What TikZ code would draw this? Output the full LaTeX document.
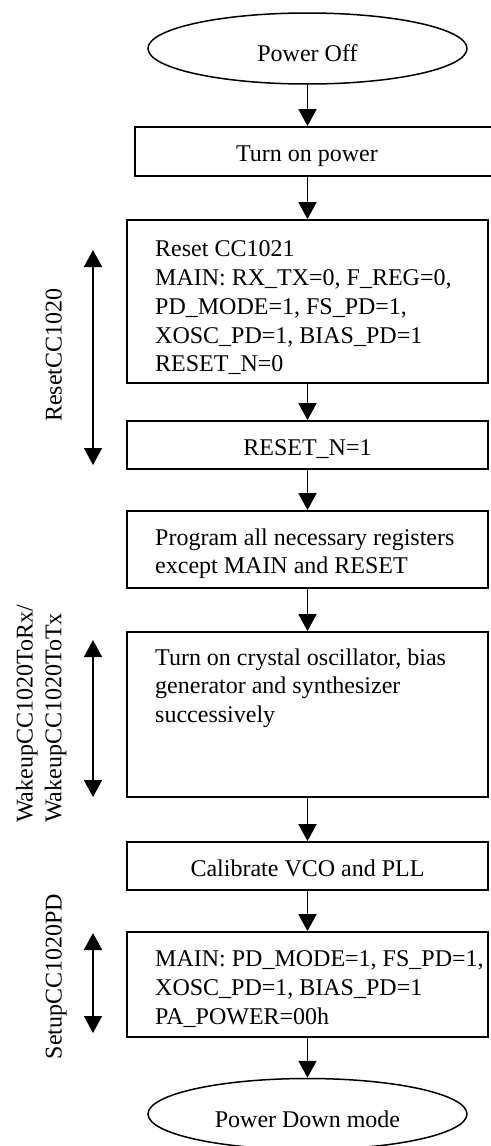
\documentclass[tikz,border=0pt]{standalone}
\usepackage{fontspec}
\setmainfont{Liberation Serif}
\usetikzlibrary{arrows.meta,shapes.geometric}
\begin{document}
\begin{tikzpicture}[x=1pt,y=-1pt,
  every node/.style={font=\fontsize{24}{28.8}\selectfont},
  box/.style={draw, line width=1.8pt, rectangle, inner sep=0pt, minimum width=361pt, text height=22pt, text depth=2pt},
  term/.style={draw, ellipse, line width=1.5pt, minimum width=319pt, minimum height=71pt, inner sep=0pt, text height=26pt, text depth=0pt},
  txt/.style={anchor=base west, inner sep=0pt, text width=360pt, align=flush left},
  flow/.style={line width=1.8pt, -{Triangle[length=17pt,width=18pt]}},
  span/.style={line width=1.8pt, {Triangle[length=17pt,width=18pt]}-{Triangle[length=17pt,width=18pt]}},
  side/.style={rotate=90, inner sep=0pt}
]
\useasboundingbox (0,0) rectangle (490,1146);

% main column
\node[term] (off) at (307.5,48.5) {Power Off};
\node[box, minimum width=357pt, minimum height=49pt] (turnon) at (313.5,151.5) {\hspace*{-13pt}Turn on power};
\node[box, minimum height=163pt] (reset) at (307.5,301.5) {};
\node[txt] (resettxt) at (155,256.7) {Reset CC1021\\MAIN: RX\_TX=0, F\_REG=0,\\PD\_MODE=1, FS\_PD=1,\\XOSC\_PD=1, BIAS\_PD=1\\RESET\_N=0};
\node[box, minimum height=48pt] (resetn) at (307.5,445) {RESET\_N=1};
\node[box, minimum height=77pt] (prog) at (307.5,549.5) {};
\node[txt] (progtxt) at (155,545) {Program all necessary registers\\except MAIN and RESET};
\node[box, minimum height=165pt] (xosc) at (307.5,714.5) {};
\node[txt] (xosctxt) at (155,665) {Turn on crystal oscillator, bias\\generator and synthesizer\\successively};
\node[box, minimum height=48pt] (cal) at (307.5,866) {Calibrate VCO and PLL};
\node[box, minimum height=105pt] (pd) at (307.5,984.5) {};
\node[txt] (pdtxt) at (155,966.7) {MAIN: PD\_MODE=1, FS\_PD=1,\\XOSC\_PD=1, BIAS\_PD=1\\PA\_POWER=00h};
\node[term] (down) at (307.5,1114) {Power Down mode};

% connectors
\draw[flow] (off.south) -- (off.south |- turnon.north);
\draw[flow] (off.south |- turnon.south) -- (reset.north);
\draw[flow] (reset.south) -- (resetn.north);
\draw[flow] (resetn.south) -- (prog.north);
\draw[flow] (prog.south) -- (xosc.north);
\draw[flow] (xosc.south) -- (cal.north);
\draw[flow] (cal.south) -- (pd.north);
\draw[flow] (pd.south) -- (down.north);

% side spans
\coordinate (r1) at (93,250);
\coordinate (r2) at (93,465);
\draw[span] (r1) -- (r2);
\node[side, anchor=base] (rlab) at (61.5,355) {ResetCC1020};

\coordinate (w1) at (93,640);
\coordinate (w2) at (93,797);
\draw[span] (w1) -- (w2);
\node[side, anchor=base west, text width=230pt, align=flush left] (wlab) at (32.7,823) {WakeupCC1020ToRx/\\WakeupCC1020ToTx};

\coordinate (s1) at (93,933);
\coordinate (s2) at (93,1033);
\draw[span] (s1) -- (s2);
\node[side, anchor=base] (slab) at (61.5,976.5) {SetupCC1020PD};
\end{tikzpicture}
\end{document}
